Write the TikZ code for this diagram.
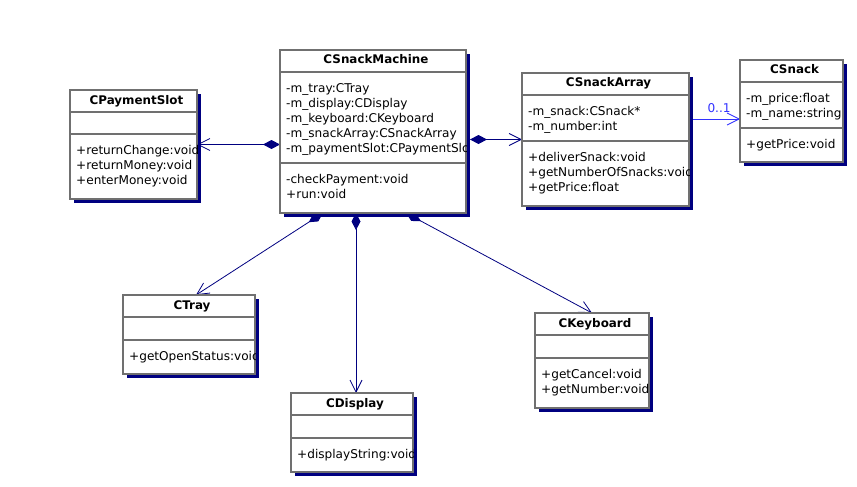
\documentclass[tikz,border=0pt]{standalone}
\usepackage{fontspec}
\setmainfont{DejaVu Sans}
\usetikzlibrary{arrows.meta,calc}
\definecolor{umlnavy}{RGB}{0,0,128}
\definecolor{umlblue}{RGB}{50,50,255}
\definecolor{boxgray}{RGB}{112,112,112}
\pgfdeclarelayer{back}
\pgfsetlayers{back,main}

% class box: name, top left, width, attribute height, operation height, title, attributes, operations
\newcommand{\umlclass}[8]{%
  \fill[umlnavy] ($(#2)+(4,4)$) rectangle ++(#3,22+#4+#5);
  \node[classbox,minimum width=#3pt,minimum height={(22+#4+#5)*1pt},anchor=north west] (#1) at (#2) {};
  \draw[classsep] ($(#1.north west)+(0,22)$) -- ++(#3,0);
  \draw[classsep] ($(#1.north west)+(0,22+#4)$) -- ++(#3,0);
  \begin{scope}
    \clip (#1.north west) rectangle (#1.south east);
    \node[classname,anchor=base] (#1-name) at ($(#1.north)+(3,14)$) {#6};
    \node[members,anchor=north west] (#1-attr) at ($(#1.north west)+(6,31.5)$) {\strut#7};
    \node[members,anchor=north west] (#1-ops) at ($(#1.north west)+(6,31.5+#4)$) {\strut#8};
  \end{scope}}

\begin{document}
\begin{tikzpicture}[
  x=1pt,y=-1pt,
  classbox/.style={draw=boxgray,line width=1.1pt,fill=white,outer sep=0pt,inner sep=0pt},
  classsep/.style={draw=boxgray,line width=1.1pt},
  classname/.style={font=\fontsize{11.9}{15}\selectfont\bfseries,inner sep=0pt},
  members/.style={font=\fontsize{12.1}{15}\selectfont,align=left,inner sep=0pt},
  comp/.style={draw=umlnavy,line width=0.8pt,{Diamond[length=17pt,width=9pt]}-{Straight Barb[length=12pt,width=12pt]}},
  assoc/.style={draw=umlblue,line width=0.8pt,-{Straight Barb[length=12pt,width=12pt]}}
]
\useasboundingbox (0,0) rectangle (857,487);
\umlclass{machine}{280,50}{186}{91}{50}{CSnackMachine}
  {-m\_tray:CTray\\-m\_display:CDisplay\\-m\_keyboard:CKeyboard\\-m\_snackArray:CSnackArray\\-m\_paymentSlot:CPaymentSlot}
  {-checkPayment:void\\+run:void}
\umlclass{pay}{70,90}{127}{22}{65}{CPaymentSlot}{}{+returnChange:void\\+returnMoney:void\\+enterMoney:void}
\umlclass{array}{522,73}{167}{46}{65}{CSnackArray}{-m\_snack:CSnack*\\-m\_number:int}
  {+deliverSnack:void\\+getNumberOfSnacks:void\\+getPrice:float}
\umlclass{snack}{740,60}{103}{46}{34}{CSnack}{-m\_price:float\\-m\_name:string}{+getPrice:void}
\umlclass{tray}{123,295}{132}{23}{34}{CTray}{}{+getOpenStatus:void}
\umlclass{display}{291,393}{122}{23}{34}{CDisplay}{}{+displayString:void}
\umlclass{keyboard}{535,313}{114}{23}{50}{CKeyboard}{}{+getCancel:void\\+getNumber:void}

\coordinate (arrayport) at ($(machine.east |- array.west)+(4,0)$);
\coordinate (snackport) at ($(snack.west)+(0,8)$);
\coordinate (trayport) at ($(tray.north)+(7,0)$);
\coordinate (displayport) at ($(display.north)+(4,0)$);
\begin{pgfonlayer}{back}
\draw[comp] (machine.west |- pay.east) -- (pay.east);
\draw[comp] (arrayport) -- (array.west);
\draw[assoc] (array.east |- snackport) -- node[above=3pt,pos=.59,font=\fontsize{12.1}{15}\selectfont,text=umlblue] (mult) {0..1} (snackport);
\draw[comp] ($(machine.south west)!.231!(machine.south east)$) -- (trayport);
\draw[comp] (machine.south -| displayport) -- (displayport);
\draw[comp] ($(machine.south west)!.677!(machine.south east)$) -- (keyboard.north);
\end{pgfonlayer}
\end{tikzpicture}
\end{document}
